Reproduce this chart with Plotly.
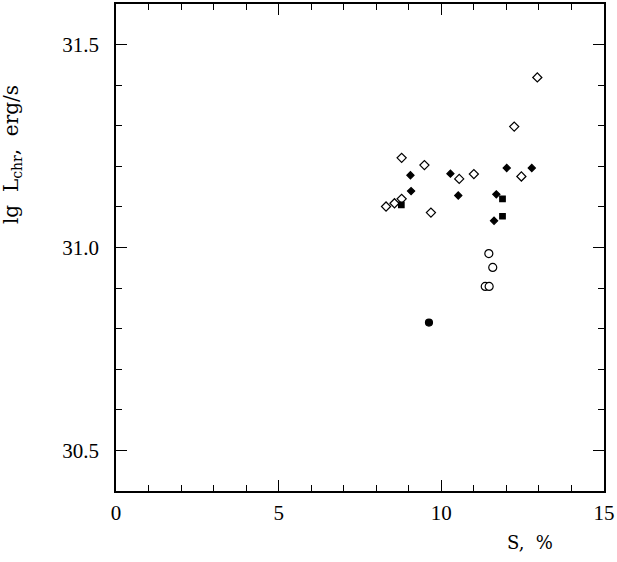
import plotly.graph_objects as go

# S, % and lg L_chr for each group of stars
open_diamond_s = [8.78, 9.48, 10.55, 11.00, 12.46, 8.78, 8.56, 8.30, 9.68, 12.95, 12.24]
open_diamond_l = [31.221, 31.203, 31.169, 31.181, 31.175, 31.120, 31.109, 31.101, 31.086, 31.419, 31.298]

filled_diamond_s = [9.05, 10.28, 12.01, 12.78, 9.07, 10.52, 11.69, 11.62]
filled_diamond_l = [31.178, 31.182, 31.196, 31.196, 31.139, 31.128, 31.131, 31.066]

filled_square_s = [8.77, 11.88, 11.88]
filled_square_l = [31.105, 31.120, 31.077]

open_circle_s = [11.46, 11.58, 11.35, 11.47]
open_circle_l = [30.985, 30.951, 30.904, 30.904]

filled_circle_s = [9.62]
filled_circle_l = [30.815]

FONT = "Liberation Serif"
TITLE_FONT = "DejaVu Serif"

fig = go.Figure()

def add_group(xs, ys, symbol, size, filled):
    fig.add_trace(go.Scatter(
        x=xs, y=ys, mode="markers",
        marker=dict(symbol=symbol, size=size,
                    color="black" if filled else "white",
                    line=dict(color="black", width=1.2)),
        showlegend=False,
    ))

add_group(open_diamond_s, open_diamond_l, "diamond", 7, False)
add_group(filled_diamond_s, filled_diamond_l, "diamond", 5.5, True)
add_group(filled_square_s, filled_square_l, "square", 5.5, True)
add_group(open_circle_s, open_circle_l, "circle", 8, False)
add_group(filled_circle_s, filled_circle_l, "circle", 7, True)

axis_common = dict(
    showline=True, linecolor="black", linewidth=1.5, mirror="allticks",
    ticks="inside", ticklen=11, tickwidth=1, tickcolor="black",
    showgrid=False, zeroline=False,
    tickfont=dict(family=FONT, size=21, color="black"),
)

fig.update_xaxes(range=[0, 15], dtick=5, tick0=0,
                 minor=dict(ticks="inside", ticklen=6, dtick=1, tickcolor="black"),
                 ticklabelstandoff=2, **axis_common)
fig.update_yaxes(range=[30.4, 31.6], dtick=0.5, tick0=30.5, tickformat=".1f",
                 minor=dict(ticks="inside", ticklen=6, dtick=0.1, tickcolor="black"),
                 ticklabelstandoff=11, **axis_common)

fig.add_annotation(text="lg&nbsp;&nbsp;L<sub>chr</sub>,&nbsp;&nbsp;erg/s", xref="paper", yref="paper",
                   x=-0.213, y=0.69, xanchor="center", yanchor="middle",
                   textangle=-90, showarrow=False,
                   font=dict(family=TITLE_FONT, size=20, color="black"))
fig.add_annotation(text="S,&nbsp;&nbsp;%", xref="paper", yref="paper",
                   x=0.848, y=-0.106, xanchor="center", yanchor="middle",
                   showarrow=False,
                   font=dict(family=TITLE_FONT, size=18, color="black"))

fig.update_layout(
    width=617, height=562,
    margin=dict(l=116, r=13, t=2, b=71),
    plot_bgcolor="white", paper_bgcolor="white",
)

fig.write_html("out.html", config={"displayModeBar": False},
               post_script="document.body.style.margin='0';")
